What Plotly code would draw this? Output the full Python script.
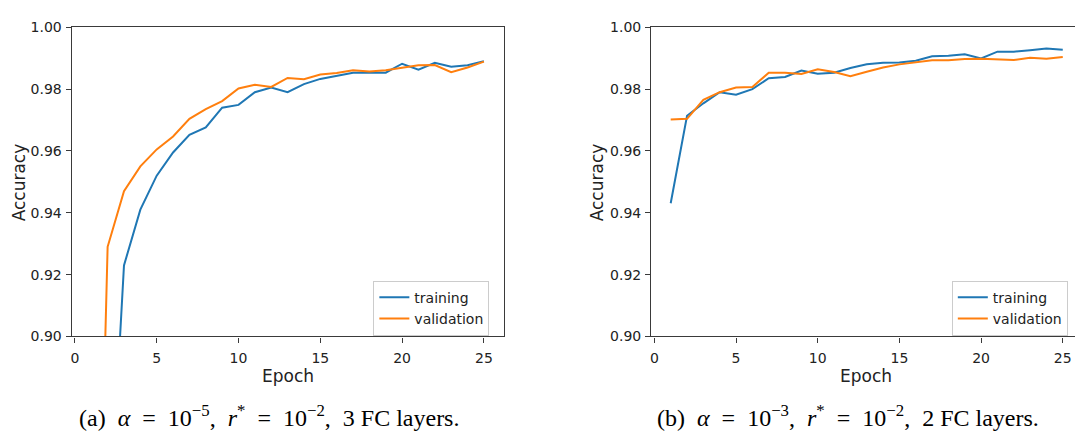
import plotly.graph_objects as go

# Epoch numbers shared by both runs
epochs = list(range(1, 26))

# Run (a): alpha = 1e-5, r* = 1e-2, 3 FC layers
train_a = [0.700, 0.827, 0.923, 0.941, 0.952, 0.9595, 0.9652, 0.9676, 0.9740, 0.9749,
           0.9790, 0.9805, 0.9790, 0.9816, 0.9833, 0.9844, 0.9853, 0.9854, 0.9853, 0.9882,
           0.9863, 0.9885, 0.9872, 0.9877, 0.9890]
val_a = [0.722, 0.929, 0.947, 0.9550, 0.9605, 0.9647, 0.9704, 0.9735, 0.9761, 0.9802,
         0.9814, 0.9807, 0.9836, 0.9832, 0.9847, 0.9852, 0.9861, 0.9857, 0.9861, 0.9870,
         0.9877, 0.9878, 0.9855, 0.9870, 0.9889]

# Run (b): alpha = 1e-3, r* = 1e-2, 2 FC layers
train_b = [0.9431, 0.9714, 0.9754, 0.9790, 0.9782, 0.9800, 0.9835, 0.9839, 0.9860, 0.9850,
           0.9853, 0.9868, 0.9880, 0.9885, 0.9886, 0.9892, 0.9906, 0.9908, 0.9913, 0.9899,
           0.9921, 0.9921, 0.9926, 0.9931, 0.9927]
val_b = [0.9702, 0.9704, 0.9765, 0.9790, 0.9805, 0.9807, 0.9853, 0.9853, 0.9849, 0.9864,
         0.9855, 0.9842, 0.9856, 0.9870, 0.9880, 0.9887, 0.9893, 0.9893, 0.9897, 0.9898,
         0.9897, 0.9894, 0.9901, 0.9898, 0.9904]

y_ticks = [0.90, 0.92, 0.94, 0.96, 0.98, 1.00]
y_tick_text = ["0.90", "0.92", "0.94", "0.96", "0.98", "1.00"]
x_ticks = [0, 5, 10, 15, 20, 25]

# Caption strings with math-style spacing around the relations
EQ = "\u2002=\u2002"
SP = "\u00a0 "
captions = [
    "(a)" + SP + "<i>α</i>" + EQ + "10<sup>−5</sup>," + SP + "<i>r</i><sup>*</sup>" + EQ
    + "10<sup>−2</sup>," + SP + "3 FC layers.",
    "(b)" + SP + "<i>α</i>" + EQ + "10<sup>−3</sup>," + SP + "<i>r</i><sup>*</sup>" + EQ
    + "10<sup>−2</sup>," + SP + "2 FC layers.",
]

BLUE = "#1f77b4"
ORANGE = "#ff7f0e"
W, H = 1075, 435
FONT = "DejaVu Sans"


def px_x(p):
    return p / W


def px_y(p):
    return (H - p) / H


fig = go.Figure()

for (tr, va, xa, ya, lg) in [(train_a, val_a, "x", "y", "legend"),
                              (train_b, val_b, "x2", "y2", "legend2")]:
    fig.add_trace(go.Scatter(x=epochs, y=tr, mode="lines", name="training",
                             line=dict(color=BLUE, width=2), xaxis=xa, yaxis=ya,
                             legend=lg, cliponaxis=True))
    fig.add_trace(go.Scatter(x=epochs, y=va, mode="lines", name="validation",
                             line=dict(color=ORANGE, width=2), xaxis=xa, yaxis=ya,
                             legend=lg, cliponaxis=True))

axis_common = dict(
    showgrid=False, zeroline=False, showline=True, linecolor="#3a3a3a", linewidth=1.1,
    ticks="outside", ticklen=5, tickwidth=1, tickcolor="#3a3a3a",
    tickfont=dict(family=FONT, size=14, color="#222"),
)

y_top, y_bot = 20, 341
fig.update_layout(
    width=W, height=H,
    margin=dict(l=0, r=0, t=0, b=0),
    paper_bgcolor="white", plot_bgcolor="white",
    xaxis=dict(domain=[px_x(70.7), px_x(503)], range=[-0.2, 26.2], tickvals=x_ticks,
               mirror=True, anchor="y", ticklabelstandoff=4, **axis_common),
    yaxis=dict(domain=[px_y(y_bot), px_y(y_top)], range=[0.90, 1.00], tickvals=y_ticks,
               ticktext=y_tick_text, mirror=True, anchor="x", ticklabelstandoff=1,
               **axis_common),
    xaxis2=dict(domain=[px_x(650.7), 1.0], range=[-0.2, (W - 654) / 16.35], tickvals=x_ticks,
                mirror=True, anchor="y2", ticklabelstandoff=4, **axis_common),
    yaxis2=dict(domain=[px_y(y_bot), px_y(y_top)], range=[0.90, 1.00], tickvals=y_ticks,
                ticktext=y_tick_text, mirror=False, anchor="x2", ticklabelstandoff=1,
                **axis_common),
    legend=dict(x=px_x(372.7), y=px_y(283), xanchor="left", yanchor="top",
                bgcolor="rgba(255,255,255,0.8)", bordercolor="#cccccc", borderwidth=1,
                font=dict(family=FONT, size=14, color="#222"), itemwidth=30,
                tracegroupgap=0),
    legend2=dict(x=px_x(951.7), y=px_y(283), xanchor="left", yanchor="top",
                 bgcolor="rgba(255,255,255,0.8)", bordercolor="#cccccc", borderwidth=1,
                 font=dict(family=FONT, size=14, color="#222"), itemwidth=30,
                 tracegroupgap=0),
)

# Axis titles
label_font = dict(family=FONT, size=17, color="#222")
for cx in (287, 866):
    fig.add_annotation(text="Epoch", x=px_x(cx), y=px_y(382), xref="paper", yref="paper",
                       showarrow=False, font=label_font, xanchor="center", yanchor="middle")
for cx in (17.5, 596):
    fig.add_annotation(text="Accuracy", x=px_x(cx), y=px_y(180.5), xref="paper", yref="paper",
                       showarrow=False, font=label_font, textangle=-90,
                       xanchor="center", yanchor="middle")

# Sub-figure captions
cap_font = dict(family="Liberation Serif", size=24, color="black")
for cx, text in zip((268, 848), captions):
    fig.add_annotation(text=text, x=px_x(cx), y=px_y(424), xref="paper", yref="paper",
                       showarrow=False, font=cap_font, xanchor="center", yanchor="middle")

fig.write_html("out.html")
